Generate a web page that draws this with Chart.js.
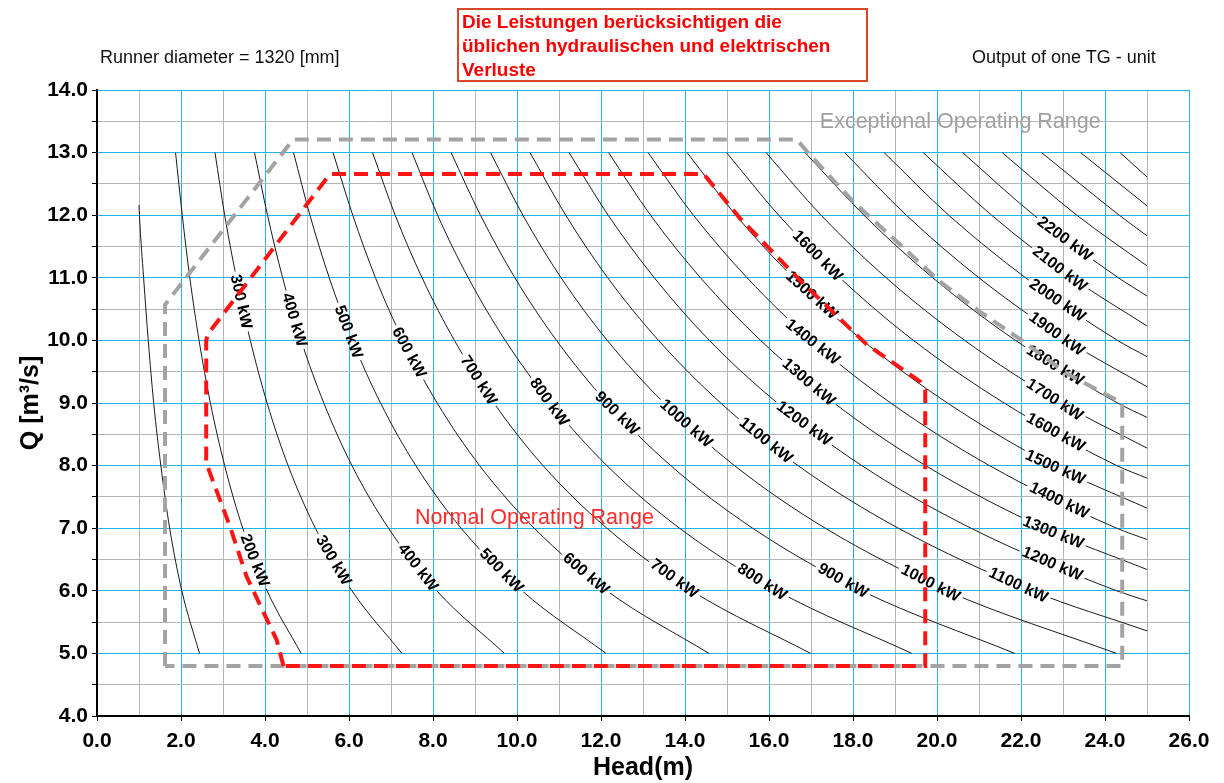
<!DOCTYPE html>
<html>
<head>
<meta charset="utf-8">
<script src="https://cdn.jsdelivr.net/npm/chart.js"></script>
<style>
  body { margin: 0; background: #fff; font-family: 'Liberation Sans', Arial, sans-serif; }
  #wrap { position: relative; width: 1224px; height: 783px; }
  .hdr { position: absolute; font-size: 18px; line-height: 18px; color: #111; white-space: nowrap; }
  #note { position: absolute; left: 457px; top: 8px; width: 404px; height: 70px; border: 2px solid #d9482b;
          padding-left: 3px; font-weight: bold; font-size: 19px; line-height: 24px; color: #ff0000; white-space: nowrap; }
  canvas { position: absolute; left: 0; top: 0; }
</style>
</head>
<body>
<div id="wrap">
  <canvas id="chart" width="1224" height="783"></canvas>
  <div class="hdr" style="left:100px; top:48px;">Runner diameter = 1320 [mm]</div>
  <div class="hdr" style="left:972px; top:48px;">Output of one TG - unit</div>
  <div id="note">Die Leistungen berücksichtigen die<br>üblichen hydraulischen und elektrischen<br>Verluste</div>
</div>
<script>
// power of each iso line (kW)
const powerKW = [100, 200, 300, 400, 500, 600, 700, 800, 900, 1000, 1100, 1200, 1300,
                 1400, 1500, 1600, 1700, 1800, 1900, 2000, 2100, 2200, 2300, 2400, 2500, 2600];

// head (m) of each iso line read at fixed flow levels Q (m3/s)
const qLevels = [13, 12, 11, 10, 9, 8, 7, 6, 5];
const headAtQ13 = [null, 1.87, 2.81, 3.75, 4.68, 5.62, 6.56, 7.50, 8.43, 9.37, 10.31, 11.24, 12.18,
                   13.12, 14.05, 14.99, 15.93, 16.86, 17.80, 18.74, 19.67, 20.61, 21.55, 22.49, 23.42, 24.36];
const headAtQ12 = [1.01, 2.03, 3.04, 4.06, 5.07, 6.09, 7.10, 8.11, 9.13, 10.14, 11.16, 12.17, 13.18,
                   14.20, 15.21, 16.23, 17.24, 18.26, 19.27, 20.28, 21.30, 22.31, 23.33, 24.34, null, null];
const headAtQ11 = [1.11, 2.21, 3.32, 4.42, 5.53, 6.63, 7.74, 8.84, 9.95, 11.05, 12.16, 13.27, 14.37,
                   15.48, 16.58, 17.69, 18.79, 19.90, 21.00, 22.11, 23.22, 24.32, null, null, null, null];
const headAtQ10 = [1.22, 2.43, 3.65, 4.86, 6.08, 7.29, 8.51, 9.72, 10.94, 12.15, 13.37, 14.58, 15.80,
                   17.01, 18.23, 19.44, 20.66, 21.87, 23.09, 24.30, null, null, null, null, null, null];
const headAtQ9  = [1.35, 2.70, 4.05, 5.40, 6.75, 8.10, 9.45, 10.80, 12.15, 13.50, 14.85, 16.20, 17.55,
                   18.90, 20.25, 21.60, 22.95, 24.30, null, null, null, null, null, null, null, null];
const headAtQ8  = [1.52, 3.04, 4.55, 6.07, 7.59, 9.11, 10.62, 12.14, 13.66, 15.18, 16.69, 18.21, 19.73,
                   21.25, 22.76, 24.28, null, null, null, null, null, null, null, null, null, null];
const headAtQ7  = [1.73, 3.47, 5.20, 6.94, 8.67, 10.41, 12.14, 13.87, 15.61, 17.34, 19.08, 20.81, 22.55,
                   24.28, null, null, null, null, null, null, null, null, null, null, null, null];
const headAtQ6  = [2.02, 4.05, 6.07, 8.09, 10.12, 12.14, 14.16, 16.19, 18.21, 20.23, 22.26, 24.28, null,
                   null, null, null, null, null, null, null, null, null, null, null, null, null];
const headAtQ5  = [2.44, 4.86, 7.26, 9.70, 12.12, 14.57, 16.99, 19.40, 21.85, 24.27, null, null, null,
                   null, null, null, null, null, null, null, null, null, null, null, null, null];
// flow where a line runs into the right end (head 25 m)
const qAtHead25 = [null, null, null, null, null, null, null, null, null, null, 5.36, 5.84, 6.34,
                   6.82, 7.32, 7.80, 8.28, 8.77, 9.26, 9.74, 10.23, 10.71, 11.19, 11.67, 12.15, 12.61];
const topOf100kW = [1.0, 12.16];

// labels on the lines: power and the flow where the label sits
const upperLabelKW = [300, 400, 500, 600, 700, 800, 900, 1000, 1100, 1200, 1300, 1400, 1500, 1600];
const upperLabelQ  = [10.62, 10.33, 10.14, 9.81, 9.37, 9.02, 8.84, 8.68, 8.41, 8.68, 9.34, 9.98, 10.73, 11.36];
const lowerLabelKW = [200, 300, 400, 500, 600, 700, 800, 900, 1000];
const lowerLabelQ  = [6.49, 6.49, 6.38, 6.33, 6.28, 6.20, 6.15, 6.17, 6.13];
const rightLabelKW = [1100, 1200, 1300, 1400, 1500, 1600, 1700, 1800, 1900, 2000, 2100, 2200];
const rightLabelQ  = [6.10, 6.44, 6.94, 7.45, 7.98, 8.54, 9.06, 9.61, 10.11, 10.65, 11.15, 11.63];

// operating range outlines (head, flow)
const exceptionalH = [1.62, 1.62, 4.67, 16.66, 16.98, 18.0, 19.04, 20.07, 21.02, 22.06, 23.09, 24.41, 24.41, 1.62];
const exceptionalQ = [4.8, 10.57, 13.21, 13.21, 12.96, 12.22, 11.58, 10.94, 10.46, 9.98, 9.47, 9.0, 4.8, 4.8];
const normalH = [4.44, 4.28, 3.56, 3.17, 2.69, 2.60, 2.60, 2.65, 5.55, 14.44, 15.31, 16.74, 18.3, 19.6, 19.72, 19.72, 4.44];
const normalQ = [4.8, 5.21, 6.23, 7.02, 7.88, 8.05, 10.0, 10.11, 12.66, 12.66, 11.95, 10.96, 9.95, 9.34, 9.2, 4.8, 4.8];

const CYAN = '#1db4e6';
const GRID_GRAY = '#b5b5b5';
const FONT = "'Liberation Sans', Arial, sans-serif";

const headRows = [headAtQ13, headAtQ12, headAtQ11, headAtQ10, headAtQ9, headAtQ8, headAtQ7, headAtQ6, headAtQ5];

function curvePoints(i) {
  const pts = [];
  if (i === 0) pts.push({x: topOf100kW[0], y: topOf100kW[1]});
  qLevels.forEach((q, r) => {
    const h = headRows[r][i];
    if (h != null) pts.push({x: h, y: q});
  });
  if (qAtHead25[i] != null) pts.push({x: 25, y: qAtHead25[i]});
  return pts;
}

const zip = (hs, qs) => hs.map((h, i) => ({x: h, y: qs[i]}));

const datasets = powerKW.map((p, i) => ({
  label: p + ' kW',
  data: curvePoints(i),
  showLine: true,
  borderColor: '#1a1a1a',
  borderWidth: 1,
  pointRadius: 0,
  tension: 0.4,
  cubicInterpolationMode: 'monotone',
  order: 2
}));
datasets.push({
  label: 'Exceptional Operating Range',
  data: zip(exceptionalH, exceptionalQ),
  showLine: true, borderColor: '#a3a3a3', borderWidth: 4, borderDash: [14, 8],
  pointRadius: 0, tension: 0, order: 1
});
datasets.push({
  label: 'Normal Operating Range',
  data: zip(normalH, normalQ),
  showLine: true, borderColor: '#ff1414', borderWidth: 4, borderDash: [14, 8],
  pointRadius: 0, tension: 0, order: 0
});

// where a label sits on its line, in pixels, and the line direction there
function labelBoxes(chart) {
  const xs = chart.scales.x, ys = chart.scales.y;
  const ctx = chart.ctx;
  ctx.font = 'bold 16px ' + FONT;
  const all = [];
  const add = (kws, qs) => kws.forEach((kw, k) => {
    const pts = datasets[powerKW.indexOf(kw)].data;
    const q = qs[k];
    for (let j = 0; j < pts.length - 1; j++) {
      const a = pts[j], b = pts[j + 1];
      if (a.y >= q && b.y <= q) {
        const t = (a.y - q) / (a.y - b.y);
        const h = a.x + (b.x - a.x) * t;
        const ang = Math.atan2(ys.getPixelForValue(b.y) - ys.getPixelForValue(a.y),
                               xs.getPixelForValue(b.x) - xs.getPixelForValue(a.x));
        const text = kw + ' kW';
        all.push({text, cx: xs.getPixelForValue(h), cy: ys.getPixelForValue(q), ang,
                  w: ctx.measureText(text).width + 6, hgt: 15});
        break;
      }
    }
  });
  add(upperLabelKW, upperLabelQ);
  add(lowerLabelKW, lowerLabelQ);
  add(rightLabelKW, rightLabelQ);
  return all;
}

const overlay = {
  id: 'overlay',
  beforeDatasetDraw(chart, args) {
    const ds = chart.data.datasets[args.index];
    const ctx = chart.ctx;
    if (ds.order === 2) {
      // leave a gap in the line where the labels go
      ctx.save();
      ctx.beginPath();
      ctx.rect(0, 0, chart.width, chart.height);
      labelBoxes(chart).forEach(b => {
        const c = Math.cos(b.ang), s = Math.sin(b.ang);
        const hw = b.w / 2, hh = b.hgt / 2;
        const corners = [[-hw, -hh], [hw, -hh], [hw, hh], [-hw, hh]];
        corners.forEach(([u, v], n) => {
          const px = b.cx + u * c - v * s, py = b.cy + u * s + v * c;
          if (n === 0) ctx.moveTo(px, py); else ctx.lineTo(px, py);
        });
        ctx.closePath();
      });
      ctx.clip('evenodd');
    }
    if (ds.order === 1) {
      ctx.save();
      ctx.font = 'bold 16px ' + FONT;
      ctx.fillStyle = '#000';
      ctx.textAlign = 'center';
      ctx.textBaseline = 'middle';
      labelBoxes(chart).forEach(b => {
        ctx.save();
        ctx.translate(b.cx, b.cy);
        ctx.rotate(b.ang);
        ctx.fillText(b.text, 0, 1);
        ctx.restore();
      });
      ctx.restore();
    }
  },
  afterDatasetDraw(chart, args) {
    if (chart.data.datasets[args.index].order === 2) chart.ctx.restore();
  },
  afterDatasetsDraw(chart) {
    const ctx = chart.ctx, xs = chart.scales.x, ys = chart.scales.y;
    ctx.save();
    ctx.font = '21.5px ' + FONT;
    ctx.textAlign = 'left';
    ctx.textBaseline = 'middle';
    ctx.fillStyle = '#a0a0a0';
    ctx.fillText('Exceptional Operating Range', xs.getPixelForValue(17.21), ys.getPixelForValue(13.49));
    ctx.fillStyle = '#ff2a2a';
    ctx.fillText('Normal Operating Range', xs.getPixelForValue(7.57), ys.getPixelForValue(7.16));
    ctx.restore();
  }
};

const tickFont = {family: FONT, size: 21, weight: 'bold'};
const titleFont = {family: FONT, size: 25, weight: 'bold'};

new Chart(document.getElementById('chart'), {
  type: 'scatter',
  data: {datasets},
  plugins: [overlay],
  options: {
    responsive: false,
    animation: false,
    events: [],
    layout: {padding: {top: 90, right: 35, left: 0, bottom: 0}},
    plugins: {legend: {display: false}, tooltip: {enabled: false}},
    scales: {
      x: {
        type: 'linear', min: 0, max: 26,
        ticks: {
          stepSize: 1, autoSkip: false, maxRotation: 0, color: '#000', font: tickFont, padding: 8,
          callback: v => (v % 2 === 0 ? v.toFixed(1) : '')
        },
        grid: {
          color: c => (c.tick && c.tick.value % 2 === 0 ? CYAN : GRID_GRAY),
          tickColor: c => (c.tick && c.tick.value % 2 === 0 ? '#000' : 'rgba(0,0,0,0)'),
          tickLength: 5, lineWidth: 1
        },
        border: {color: '#000', width: 2},
        title: {display: true, text: 'Head(m)', color: '#000', font: titleFont, padding: {top: 0, bottom: 0}},
        afterFit(s) { s.height = 67; }
      },
      y: {
        type: 'linear', min: 4, max: 14,
        ticks: {
          stepSize: 0.5, autoSkip: false, color: '#000', font: tickFont, padding: 4,
          callback: v => (Number.isInteger(v) ? v.toFixed(1) : '')
        },
        grid: {
          color: c => (c.tick && Number.isInteger(c.tick.value) ? CYAN : GRID_GRAY),
          tickColor: '#000', tickLength: 5, lineWidth: 1
        },
        border: {color: '#000', width: 2},
        title: {display: true, text: 'Q [m³/s]', color: '#000', font: titleFont, padding: {top: 16, bottom: 0}},
        afterFit(s) { s.width = 97; }
      }
    }
  }
});
</script>
</body>
</html>
